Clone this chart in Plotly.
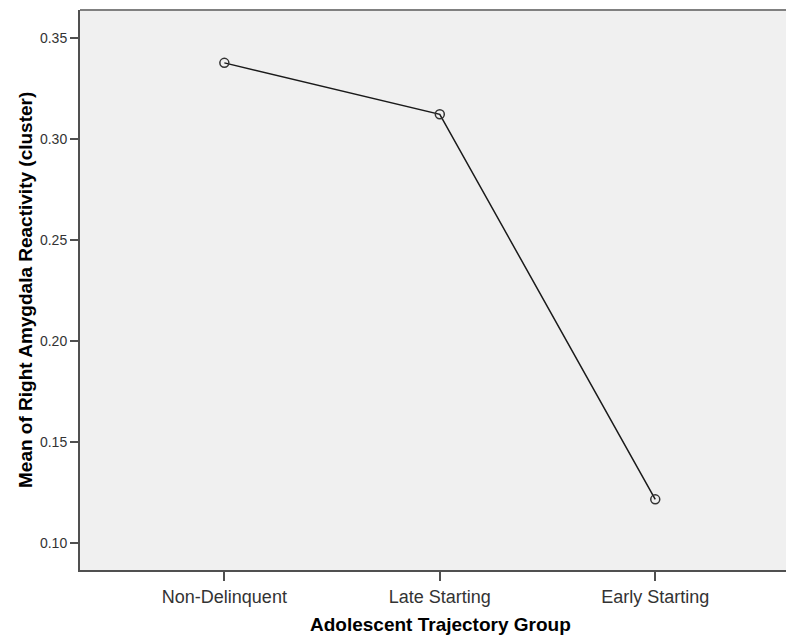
import plotly.graph_objects as go

categories = ["Non-Delinquent", "Late Starting", "Early Starting"]
means = [0.3378, 0.3123, 0.1215]
y_ticks = [0.10, 0.15, 0.20, 0.25, 0.30, 0.35]
y_tick_labels = ["0.10", "0.15", "0.20", "0.25", "0.30", "0.35"]

# the page body has an 8px margin, so the figure is sized to fit inside it
fig = go.Figure()
fig.add_trace(go.Scatter(
    x=list(range(len(categories))), y=means, mode="lines+markers",
    line=dict(color="#1a1a1a", width=1.5),
    marker=dict(symbol="circle-open", size=9, color="#333333", line=dict(width=1.5)),
    showlegend=False, hoverinfo="skip",
))

fig.update_layout(
    width=786, height=629,
    margin=dict(l=72, r=0, t=2, b=67),
    paper_bgcolor="white", plot_bgcolor="#f0f0f0",
    font=dict(family="Liberation Sans, Arial, sans-serif", size=12, color="#333333"),
    xaxis=dict(
        range=[-0.67, 2.644], tickmode="array",
        tickvals=list(range(len(categories))), ticktext=categories,
        showgrid=False, zeroline=False, showline=True, linecolor="#505050", linewidth=2,
        ticks="outside", ticklen=9, tickcolor="#505050", tickwidth=1.5,
        tickfont=dict(size=18, color="#333333"), automargin=False,
    ),
    yaxis=dict(
        range=[0.0865, 0.364], tickmode="array", tickvals=y_ticks, ticktext=y_tick_labels,
        showgrid=False, zeroline=False, showline=True, linecolor="#505050", linewidth=2,
        ticks="outside", ticklen=8, tickcolor="#505050", tickwidth=1.5,
        tickfont=dict(size=14, color="#333333"), automargin=False,
    ),
    shapes=[dict(type="line", xref="paper", yref="paper", x0=0, x1=1, y0=1, y1=1,
                 line=dict(color="#808080", width=2))],
    annotations=[
        dict(text="<b>Adolescent Trajectory Group</b>", xref="paper", yref="paper",
             x=360 / 714, y=-54 / 560, xanchor="center", yanchor="middle",
             showarrow=False, font=dict(size=19, color="#000000")),
        dict(text="<b>Mean of Right Amygdala Reactivity (cluster)</b>", xref="paper", yref="paper",
             x=-55 / 714, y=0.5, xanchor="center", yanchor="middle", textangle=-90,
             showarrow=False, font=dict(size=19, color="#000000")),
    ],
)

fig.write_html("out.html")
